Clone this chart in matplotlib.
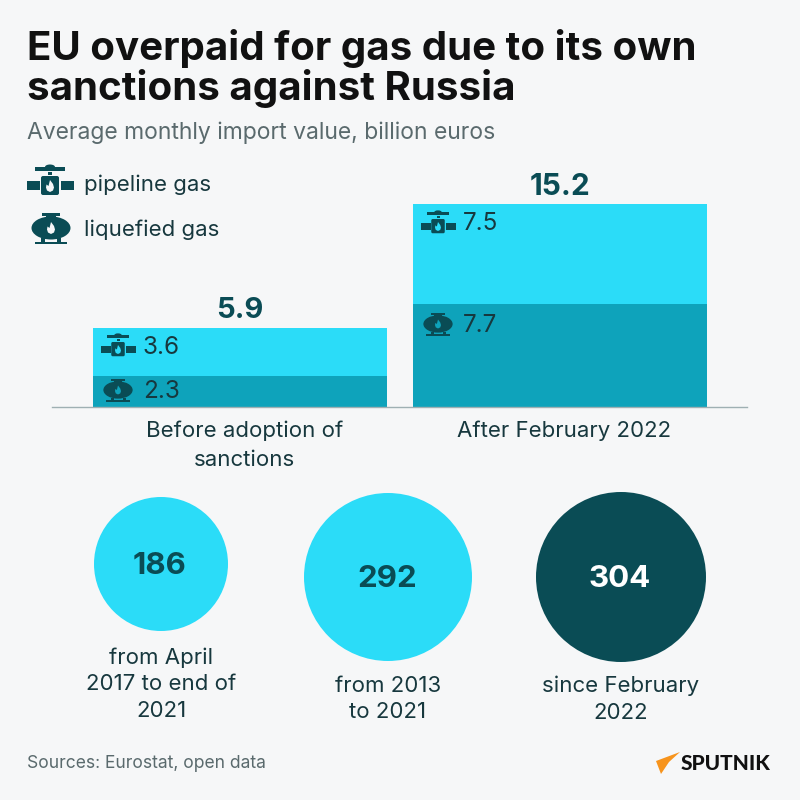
import matplotlib
matplotlib.use("Agg")
import matplotlib.pyplot as plt
from matplotlib.patches import Circle, Rectangle, Polygon, Ellipse, FancyBboxPatch
from matplotlib.transforms import ScaledTranslation

categories = ["Before adoption of\nsanctions", "After February 2022"]
pipeline = [3.6, 7.5]
liquefied = [2.3, 7.7]
totals = ["5.9", "15.2"]
circle_values = [186, 292, 304]
circle_labels = ["from April\n2017 to end of\n2021", "from 2013\nto 2021", "since February\n2022"]
circle_colors = ["#2bdcf8", "#2bdcf8", "#0a4c55"]

BG = "#f6f7f8"; DARK = "#0a4c55"; TXT = "#17383e"; GREY = "#5a6a6d"
CY = "#2bdcf8"; TEAL = "#0ea3bb"
plt.rcParams["font.family"] = ["Inter", "DejaVu Sans"]

fig = plt.figure(figsize=(8, 8), dpi=100, facecolor=BG)
bg = fig.add_axes([0, 0, 1, 1]); bg.set_xlim(0, 800); bg.set_ylim(800, 0); bg.axis("off")

def flame(ax, cx, cy, s, c):
    pts = [(0, -6), (3, -2), (4, 1.5), (3, 4.5), (0, 6), (-3, 4.5), (-4, 1.5), (-3.5, -1.5), (-1.5, 0)]
    ax.add_patch(Polygon([(cx + a * s, cy + b * s) for a, b in pts], color=c, lw=0))

def pipe_icon(ax, cx, cy, s=1.0, c=DARK, bgc="white"):
    ax.add_patch(Rectangle((cx-23*s, cy-3*s), 13*s, 9*s, color=c, lw=0))
    ax.add_patch(Rectangle((cx+11*s, cy-3*s), 13*s, 9*s, color=c, lw=0))
    ax.add_patch(FancyBboxPatch((cx-9*s, cy-8*s), 18*s, 19*s, boxstyle=f"round,pad=0,rounding_size={2*s}", color=c, lw=0))
    ax.add_patch(Rectangle((cx-2*s, cy-12*s), 4*s, 3*s, color=c, lw=0))
    ax.add_patch(Rectangle((cx-15*s, cy-17*s), 30*s, 4*s, color=c, lw=0))
    ax.add_patch(Ellipse((cx, cy-17*s), 10*s, 5*s, color=c, lw=0))
    flame(ax, cx, cy+2*s, s, bgc)

def lng_icon(ax, cx, cy, s=1.0, c=DARK, bgc="white"):
    ax.add_patch(Ellipse((cx, cy), 39*s, 23*s, color=c, lw=0))
    ax.add_patch(Rectangle((cx-9*s, cy-15*s), 18*s, 2.5*s, color=c, lw=0))
    ax.add_patch(Rectangle((cx-5*s, cy-13*s), 10*s, 3*s, color=c, lw=0))
    ax.add_patch(Rectangle((cx-10*s, cy+10*s), 4*s, 4*s, color=c, lw=0))
    ax.add_patch(Rectangle((cx+6*s, cy+10*s), 4*s, 4*s, color=c, lw=0))
    ax.add_patch(Rectangle((cx-16*s, cy+13.5*s), 32*s, 2.5*s, color=c, lw=0))
    flame(ax, cx, cy, s, bgc)

# title block
bg.text(27, 49, "EU overpaid for gas due to its own", fontsize=29, fontweight="bold", color="#111", va="center")
bg.text(27, 89, "sanctions against Russia", fontsize=29, fontweight="bold", color="#111", va="center")
bg.text(27, 133, "Average monthly import value, billion euros", fontsize=16.5, color=GREY, va="center")

# legend
pipe_icon(bg, 50, 184, bgc=BG); bg.text(84, 185, "pipeline gas", fontsize=16, color=TXT, va="center")
lng_icon(bg, 51, 228, bgc=BG); bg.text(84, 230, "liquefied gas", fontsize=16, color=TXT, va="center")

# bars
ax = fig.add_axes([52/800, 1-407/800, 695/800, 203/800]); ax.patch.set_alpha(0)
x = [0, 1]
ax.set_ylim(0, 15.2)
ax.set_xlim((52-240)/320, (747-240)/320)
ax.bar(x, liquefied, 294/320, color=TEAL, lw=0)
ax.bar(x, pipeline, 294/320, bottom=liquefied, color=CY, lw=0)
for s in ["top", "left", "right"]:
    ax.spines[s].set_visible(False)
ax.spines["bottom"].set_color("#9fb0b3"); ax.spines["bottom"].set_linewidth(1)
ax.set_yticks([]); ax.set_xticks(x)
ax.set_xticklabels(categories, fontsize=16, color=TXT, linespacing=1.55)
ax.tick_params(axis="x", length=0, pad=10)
for lab in ax.get_xticklabels():
    lab.set_transform(lab.get_transform() + ScaledTranslation(4.5/100, 0, fig.dpi_scale_trans))
ax.set_zorder(1)

ov = fig.add_axes([0, 0, 1, 1], zorder=2); ov.set_xlim(0, 800); ov.set_ylim(800, 0); ov.axis("off"); ov.patch.set_alpha(0)
pipe_icon(ov, 118, 348, .75, bgc=CY); ov.text(143, 348, f"{pipeline[0]}", fontsize=17.5, color=TXT, va="center")
lng_icon(ov, 118, 390, .75, bgc=TEAL); ov.text(143, 391, f"{liquefied[0]}", fontsize=17.5, color=TXT, va="center")
pipe_icon(ov, 438, 225, .75, bgc=CY); ov.text(463, 224, f"{pipeline[1]}", fontsize=17.5, color=TXT, va="center")
lng_icon(ov, 438, 324, .75, bgc=TEAL); ov.text(463, 326, f"{liquefied[1]}", fontsize=17.5, color=TXT, va="center")
ov.text(240, 311, totals[0], fontsize=21, fontweight="bold", color=DARK, ha="center", va="center")
ov.text(560, 187, totals[1], fontsize=21.5, fontweight="bold", color=DARK, ha="center", va="center")

# circles
centers = [(161, 564), (388, 577), (621, 577)]
radii = [67, 84, 85]
val_colors = [DARK, DARK, "white"]
label_y = [684, 699, 699]
for (cx, cy), r, v, c, vc, lab, ly in zip(centers, radii, circle_values, circle_colors, val_colors, circle_labels, label_y):
    ov.add_patch(Circle((cx, cy), r, color=c, lw=0))
    ov.text(cx - 1, cy + 2, str(v), fontsize=22.5, fontweight="bold", color=vc, ha="center", va="center")
    ov.text(cx, ly, lab, fontsize=16, color=TXT, ha="center", va="center", linespacing=1.42)

# footer
ov.text(27, 763, "Sources: Eurostat, open data", fontsize=12.6, color=GREY, va="center")
ov.add_patch(Polygon([(680, 752), (656, 761), (661, 774), (669, 762)], color="#f7941d", lw=0))
ov.text(681, 763, "SPUTNIK", fontsize=15, fontweight="black", color="#111", va="center", family="Lato")

fig.savefig("out.png", dpi=100, facecolor=BG)
